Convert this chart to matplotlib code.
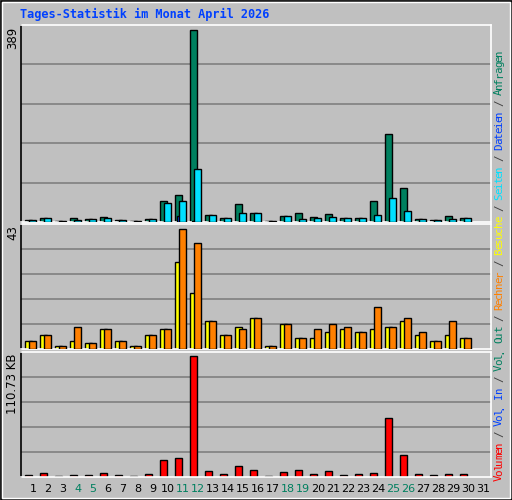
import matplotlib
matplotlib.use("Agg")
import matplotlib.pyplot as plt
from matplotlib.patches import Rectangle
import numpy as np

days = list(range(1, 32))
weekend = [4, 5, 11, 12, 18, 19, 25, 26]
anfragen = [4, 8, 2, 8, 6, 10, 4, 2, 6, 43, 55, 389, 14, 8, 37, 18, 2, 12, 18, 10, 16, 8, 8, 43, 179, 69, 6, 4, 12, 8]
dateien = [1, 1, 1, 1, 1, 1, 1, 1, 1, 1, 12, 2, 1, 1, 1, 1, 1, 1, 1, 1, 1, 1, 1, 1, 1, 1, 1, 1, 1, 1]
seiten = [4, 8, 2, 4, 6, 8, 4, 2, 6, 39, 43, 108, 14, 8, 18, 18, 2, 12, 6, 8, 10, 8, 8, 14, 49, 22, 6, 4, 6, 8]
besuche = [3, 5, 1, 3, 2, 7, 3, 1, 5, 7, 31, 20, 10, 5, 8, 11, 1, 9, 4, 4, 6, 7, 6, 7, 8, 10, 5, 3, 5, 4]
rechner = [3, 5, 1, 8, 2, 7, 3, 1, 5, 7, 43, 38, 10, 5, 7, 11, 1, 9, 4, 7, 9, 8, 6, 15, 8, 11, 6, 3, 10, 4]
volumen_kb = [2.2, 4.0, 0.9, 2.2, 2.2, 4.0, 2.2, 0.9, 3.1, 15.2, 17.0, 110.73, 5.9, 3.1, 10.5, 6.8, 0.9, 4.9, 6.8, 3.1, 5.9, 2.2, 3.1, 4.0, 54.1, 19.8, 3.1, 2.2, 3.1, 3.1]

BG = "#C0C0C0"
GREEN = "#00805F"
BLUE = "#0040FF"
CYAN = "#00E0FF"
YELLOW = "#FFFF00"
ORANGE = "#FF8000"
RED = "#FF0000"
W, H = 512, 500
fig = plt.figure(figsize=(W / 100, H / 100), dpi=100, facecolor=BG)
MONO = "DejaVu Sans Mono"

def px_axes(x0, y0, x1, y1):
    ax = fig.add_axes([x0 / W, (H - y1) / H, (x1 - x0) / W, (y1 - y0) / H])
    ax.set_facecolor(BG)
    ax.set_xlim(0.153, 31.53)
    ax.set_xticks([]); ax.set_yticks([])
    for s in ["top", "right", "bottom"]:
        ax.spines[s].set_color("white")
    ax.spines["left"].set_color("black")
    for s in ax.spines.values():
        s.set_linewidth(1.2)
    return ax

d = np.array(days[:len(anfragen)])
bw = 0.47
kw = dict(align="edge", edgecolor="black", linewidth=1.0)

def grid(ax, top):
    for i in range(1, 5):
        ax.axhline(top * i / 5, color="#808080", lw=1.2, zorder=0)

ax1 = px_axes(20.5, 25, 491, 222)
top1 = max(anfragen) / 0.975
ax1.set_ylim(0, top1); grid(ax1, top1)
ax1.bar(d - 0.53, anfragen, bw, color=GREEN, zorder=2, **kw)
ax1.bar(d - 0.40, dateien, bw, color=BLUE, zorder=3, **kw)
ax1.bar(d - 0.25, seiten, bw, color=CYAN, zorder=4, **kw)

ax2 = px_axes(20.5, 224, 491, 349)
top2 = max(rechner) / 0.96
ax2.set_ylim(0, top2); grid(ax2, top2)
ax2.bar(d - 0.53, besuche, bw, color=YELLOW, zorder=2, **kw)
ax2.bar(d - 0.25, rechner, bw, color=ORANGE, zorder=3, **kw)

ax3 = px_axes(20.5, 352, 491, 477)
top3 = max(volumen_kb) / 0.965
ax3.set_ylim(0, top3); grid(ax3, top3)
ax3.bar(d - 0.53, volumen_kb, bw, color=RED, zorder=2, **kw)

for day in days:
    x = 33 + (day - 1) * 15
    fig.text(x / W, 1 - 489 / H, str(day), ha="center", va="center", fontsize=8,
             family="DejaVu Sans", color=GREEN if day in weekend else "black")

for y, s in [(27, "389"), (225, "43"), (354, "110.73 KB")]:
    fig.text(13 / W, 1 - y / H, s, rotation=90, ha="center", va="top", fontsize=8.5, family="DejaVu Sans")

fig.text(20 / W, 1 - 14 / H, "Tages-Statistik im Monat April 2026", ha="left", va="center",
         fontsize=8.6, family=MONO, weight="bold", color=BLUE)

pieces = [("Volumen", RED), (" / ", "#404040"), ("Vol. In", BLUE), (" / ", "#404040"),
          ("Vol. Out", GREEN), (" / ", "#404040"), ("Rechner", ORANGE), (" / ", "#404040"),
          ("Besuche", YELLOW), (" / ", "#404040"), ("Seiten", CYAN), (" / ", "#404040"),
          ("Dateien", BLUE), (" / ", "#404040"), ("Anfragen", GREEN)]
total = sum(len(p) for p, _ in pieces)
y0, y1 = 481, 50
ch = (y0 - y1) / total
pos = 0
for txt, col in pieces:
    for c in txt:
        if c != " ":
            y = y0 - (pos + 0.5) * ch
            fig.text(499 / W, 1 - y / H, c, rotation=90, ha="center", va="center",
                     fontsize=7.8, family=MONO, color=col)
        pos += 1

fig.patches.append(Rectangle((0.5 / W, 0.5 / H), (W - 1) / W, (H - 1) / H, transform=fig.transFigure,
                             fill=False, edgecolor="black", lw=1.2))
fig.patches.append(Rectangle((2 / W, 2 / H), (W - 4) / W, (H - 4) / H, transform=fig.transFigure,
                             fill=False, edgecolor="white", lw=1.0))
fig.savefig("out.png", dpi=100, facecolor=BG)
